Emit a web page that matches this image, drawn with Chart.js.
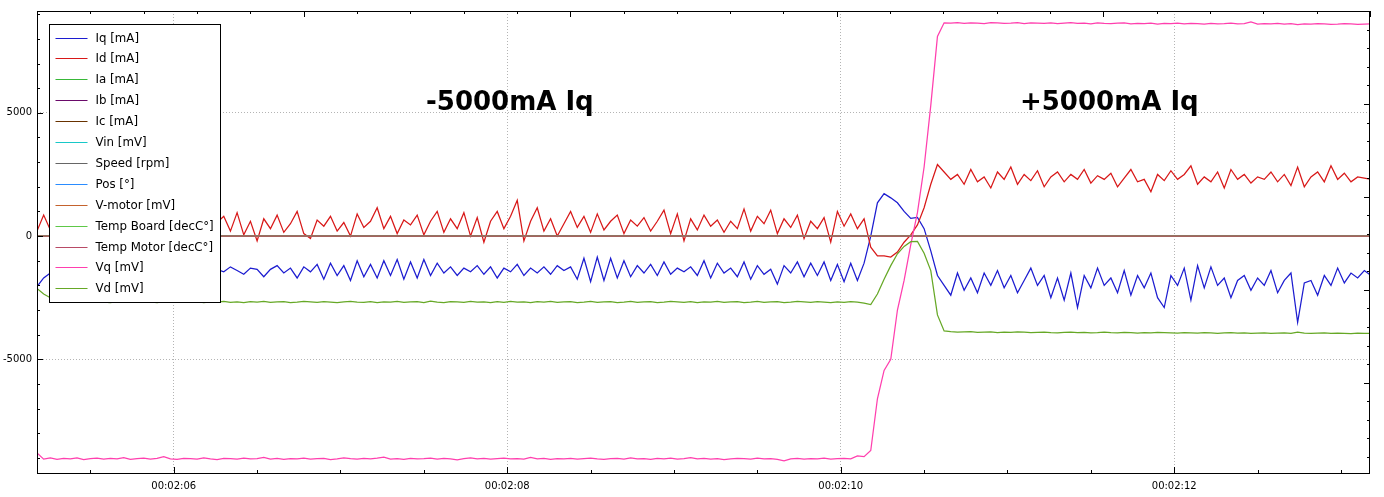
<!DOCTYPE html>
<html>
<head>
<meta charset="utf-8">
<script src="https://cdn.jsdelivr.net/npm/chart.js@4.4.1/dist/chart.umd.min.js"></script>
<style>
  html, body { margin: 0; padding: 0; background: #fff; }
  #wrap { width: 1384px; height: 497px; }
</style>
</head>
<body>
<div id="wrap"><canvas id="scope"></canvas></div>
<script>
// Sample clock of the logger (seconds since start)
const t0 = 125.18;
const dt = 0.04;
const timeMin = 125.18;
const timeMax = 133.174;

// Tick labels / axis values
const xMajorTicks = [126, 128, 130, 132];
const yMajorTicks = [-5000, 0, 5000];

// Logged channels, one value per sample
const iqValues = [
  -2050, -1700, -1500, -1350, -1450, -1300, -1500, -1350, -1250, -1450,
  -1350, -1550, -1300, -1400, -1250, -1500, -1350, -1450, -1300, -1550,
  -1400, -1250, -1450, -1350, -1500, -1300, -1400, -1350, -1450, -1250,
  -1400, -1550, -1300, -1350, -1650, -1350, -1200, -1500, -1300, -1700,
  -1250, -1450, -1150, -1750, -1100, -1600, -1200, -1800, -1000, -1650,
  -1150, -1700, -1000, -1600, -950, -1750, -1050, -1700, -950, -1600,
  -1100, -1500, -1250, -1600, -1300, -1450, -1200, -1550, -1250, -1700,
  -1300, -1450, -1150, -1600, -1300, -1500, -1250, -1550, -1200, -1400,
  -1250, -1750, -900, -1850, -850, -1800, -900, -1700, -1000, -1650,
  -1200, -1500, -1150, -1600, -1050, -1550, -1300, -1450, -1250, -1600,
  -1000, -1700, -1100, -1500, -1300, -1650, -1050, -1750, -1200, -1550,
  -1350, -1950, -1200, -1500, -1050, -1650, -1100, -1600, -1050, -1800,
  -1150, -1850, -1100, -1800, -1100, 0, 1350, 1720, 1550, 1350,
  1000, 720, 760, 300, -600, -1600, -2000, -2400, -1500, -2200,
  -1700, -2300, -1500, -2000, -1400, -2100, -1600, -2300, -1800, -1300,
  -2000, -1600, -2500, -1700, -2600, -1500, -2900, -1600, -2100, -1300,
  -2000, -1700, -2300, -1400, -2400, -1600, -2100, -1500, -2500, -2900,
  -1600, -2000, -1300, -2600, -1200, -2100, -1250, -2000, -1700, -2500,
  -1800, -1600, -2200, -1700, -2000, -1400, -2300, -1800, -1500, -3500,
  -1900, -1800, -2400, -1600, -2000, -1300, -1900, -1500, -1700, -1400, -1600
];

const idValues = [
  200, 850, 250, 700, 100, 600, 350, 900, 150, 500,
  750, 200, 600, 50, 800, 400, 650, 100, 550, 900,
  250, 600, 0, 700, 450, 800, 150, 550, 800, 200,
  950, 50, 600, -200, 700, 300, 850, 150, 500, 1000,
  100, -100, 650, 400, 800, 200, 550, 0, 900, 350,
  600, 1150, 300, 800, 100, 650, 450, 850, 50, 600,
  1000, 150, 700, 300, 950, 0, 750, -250, 600, 1000,
  300, 800, 1450, -200, 600, 1150, 200, 700, 0, 500,
  1000, 350, 800, 150, 900, 250, 600, 850, 100, 650,
  400, 750, 200, 600, 1050, 100, 900, -200, 700, 250,
  850, 400, 650, 150, 600, 300, 1100, 200, 800, 500,
  1050, 100, 700, 350, 850, -100, 600, 300, 750, -250,
  1000, 400, 900, 300, 700, -450, -800, -800, -850, -650,
  -250, 50, 450, 1150, 2100, 2900, 2600, 2300, 2500, 2100,
  2700, 2200, 2400, 1950, 2600, 2300, 2800, 2100, 2500, 2250,
  2650, 2000, 2400, 2600, 2200, 2500, 2300, 2700, 2150, 2450,
  2300, 2550, 2000, 2350, 2700, 2200, 2300, 1800, 2500, 2250,
  2650, 2300, 2500, 2850, 2100, 2400, 2200, 2600, 1950, 2700,
  2300, 2500, 2150, 2400, 2300, 2600, 2200, 2500, 2050, 2800,
  2000, 2400, 2600, 2200, 2850, 2300, 2550, 2200, 2400, 2350, 2300
];

const vqValues = [
  -8800, -9050, -9000, -9060, -9020, -9040, -9000, -9070, -9030, -9010,
  -9050, -9020, -9040, -8990, -9060, -9030, -9010, -9050, -9020, -8950,
  -9040, -9060, -9020, -9030, -9050, -9000, -9040, -9070, -9020, -9030,
  -9050, -9010, -9040, -9030, -8980, -9050, -9020, -9060, -9030, -9040,
  -9010, -9050, -9030, -9020, -9070, -9040, -9000, -9030, -9050, -9020,
  -9040, -9010, -8970, -9050, -9030, -9060, -9020, -9040, -9030, -9010,
  -9050, -9020, -9040, -9080, -9030, -9000, -9040, -9020, -9050, -9030,
  -9010, -9040, -9030, -9050, -8980, -9040, -9020, -9060, -9030, -9040,
  -9020, -9050, -9030, -9010, -9040, -9060, -9030, -9020, -9050, -9000,
  -9040, -9030, -9060, -9020, -9040, -9010, -9050, -9030, -8990, -9040,
  -9020, -9050, -9030, -9070, -9040, -9020, -9030, -9050, -9010, -9040,
  -9030, -9060, -9120, -9040, -9020, -9050, -9030, -9040, -9010, -9050,
  -9030, -9020, -9040, -8920, -8950, -8700, -6600, -5450, -5000, -3000,
  -1800, -350, 950, 2800, 5300, 8100, 8650, 8640, 8660, 8630,
  8650, 8640, 8620, 8660, 8650, 8630, 8640, 8660, 8620, 8650,
  8640, 8630, 8650, 8620, 8640, 8660, 8630, 8640, 8610, 8650,
  8630, 8620, 8640, 8650, 8610, 8630, 8620, 8640, 8600, 8630,
  8620, 8640, 8610, 8630, 8620, 8600, 8630, 8610, 8620, 8640,
  8610, 8620, 8690, 8600, 8620, 8610, 8630, 8600, 8620, 8580,
  8610, 8600, 8620, 8610, 8590, 8600, 8620, 8610, 8590, 8600, 8610
];

const vdValues = [
  -2130, -2350, -2500, -2600, -2650, -2680, -2660, -2690, -2670, -2650,
  -2680, -2700, -2660, -2670, -2690, -2650, -2680, -2670, -2700, -2660,
  -2680, -2650, -2690, -2670, -2660, -2700, -2670, -2680, -2650, -2690,
  -2670, -2700, -2660, -2680, -2650, -2690, -2670, -2660, -2700, -2680,
  -2650, -2670, -2690, -2660, -2680, -2700, -2670, -2650, -2680, -2690,
  -2660, -2700, -2670, -2680, -2650, -2690, -2670, -2660, -2700, -2640,
  -2680, -2700, -2660, -2670, -2690, -2650, -2680, -2670, -2700, -2660,
  -2690, -2650, -2680, -2670, -2700, -2660, -2680, -2650, -2690, -2670,
  -2660, -2700, -2680, -2650, -2690, -2670, -2660, -2700, -2680, -2650,
  -2690, -2670, -2660, -2700, -2680, -2650, -2670, -2690, -2660, -2700,
  -2670, -2680, -2650, -2690, -2670, -2660, -2700, -2680, -2650, -2690,
  -2670, -2660, -2700, -2680, -2650, -2670, -2690, -2660, -2680, -2700,
  -2670, -2690, -2660, -2680, -2720, -2780, -2350, -1750, -1200, -720,
  -420, -230, -220, -700, -1400, -3200, -3850, -3880, -3900, -3890,
  -3880, -3910, -3900, -3890, -3920, -3900, -3910, -3890, -3900, -3920,
  -3910, -3900, -3920, -3930, -3910, -3900, -3920, -3910, -3930, -3920,
  -3900, -3920, -3930, -3910, -3920, -3940, -3920, -3930, -3910, -3920,
  -3930, -3940, -3920, -3930, -3940, -3920, -3930, -3950, -3930, -3920,
  -3940, -3930, -3950, -3940, -3930, -3950, -3940, -3930, -3950, -3900,
  -3940, -3950, -3940, -3930, -3950, -3940, -3950, -3960, -3940, -3950, -3950
];

// Channels that stay flat at zero for the whole capture (start, end)
const flatTimes = [timeMin, timeMax];
const iaValues = [0, 0];
const ibValues = [0, 0];
const icValues = [0, 0];
const vinValues = [0, 0];
const speedValues = [0, 0];
const posValues = [0, 0];
const vMotorValues = [0, 0];
const tempBoardValues = [0, 0];
const tempMotorValues = [0, 0];

const sampleTimes = iqValues.map((_, i) => t0 + i * dt);

// Text notes placed in data coordinates
const notes = [
  { text: '-5000mA Iq', t: 127.513, v: 5130 },
  { text: '+5000mA Iq', t: 131.075, v: 5130 }
];

function toPoints(times, values) {
  return values.map((v, i) => ({ x: times[i], y: v }));
}

const channels = [
  { label: 'Iq [mA]', color: '#1c1cd0', times: sampleTimes, values: iqValues },
  { label: 'Id [mA]', color: '#d81818', times: sampleTimes, values: idValues },
  { label: 'Ia [mA]', color: '#38b838', times: flatTimes, values: iaValues },
  { label: 'Ib [mA]', color: '#6a0a6a', times: flatTimes, values: ibValues },
  { label: 'Ic [mA]', color: '#683200', times: flatTimes, values: icValues },
  { label: 'Vin [mV]', color: '#18c8c8', times: flatTimes, values: vinValues },
  { label: 'Speed [rpm]', color: '#666666', times: flatTimes, values: speedValues },
  { label: 'Pos [°]', color: '#2a8cff', times: flatTimes, values: posValues },
  { label: 'V-motor [mV]', color: '#c4622d', times: flatTimes, values: vMotorValues },
  { label: 'Temp Board [decC°]', color: '#5ec848', times: flatTimes, values: tempBoardValues },
  { label: 'Temp Motor [decC°]', color: '#b84a66', times: flatTimes, values: tempMotorValues },
  { label: 'Vq [mV]', color: '#ff3fae', times: sampleTimes, values: vqValues },
  { label: 'Vd [mV]', color: '#66a826', times: sampleTimes, values: vdValues }
];

function fmtTime(sec) {
  const h = Math.floor(sec / 3600);
  const m = Math.floor((sec % 3600) / 60);
  const s = Math.round(sec % 60);
  const p = n => String(n).padStart(2, '0');
  return p(h) + ':' + p(m) + ':' + p(s);
}

// Qwt-like frame with inward ticks on all four sides
const frameTicks = {
  id: 'frameTicks',
  afterDraw(chart) {
    const { ctx, chartArea: a, scales } = chart;
    ctx.save();
    ctx.strokeStyle = '#000';
    ctx.lineWidth = 1;
    ctx.strokeRect(a.left + 0.5, a.top + 0.5, a.right - a.left - 1, a.bottom - a.top);

    function ticks(scale, step, majorStep, draw) {
      let v = Math.ceil((scale.min - 1e-9) / step) * step;
      for (; v <= scale.max + 1e-9; v += step) {
        const r = v / majorStep;
        const major = Math.abs(r - Math.round(r)) < 1e-6;
        draw(Math.round(scale.getPixelForValue(v)) + 0.5, major ? 6 : 3);
      }
    }
    ctx.beginPath();
    ticks(scales.x, 0.5, 2, (px, len) => { ctx.moveTo(px, a.bottom); ctx.lineTo(px, a.bottom - len); });
    ticks(scales.y, 1000, 5000, (py, len) => { ctx.moveTo(a.left, py); ctx.lineTo(a.left + len, py); });
    ticks(scales.x2, 1, 5, (px, len) => { ctx.moveTo(px, a.top); ctx.lineTo(px, a.top + len); });
    ticks(scales.y2, 1, 5, (py, len) => { ctx.moveTo(a.right, py); ctx.lineTo(a.right - len, py); });
    ctx.stroke();
    ctx.restore();
  }
};

const noteText = {
  id: 'noteText',
  afterDatasetsDraw(chart) {
    const { ctx, scales } = chart;
    ctx.save();
    ctx.fillStyle = '#000';
    ctx.font = 'bold 26px "DejaVu Sans"';
    ctx.textAlign = 'left';
    ctx.textBaseline = 'alphabetic';
    notes.forEach(n => {
      ctx.fillText(n.text, scales.x.getPixelForValue(n.t), scales.y.getPixelForValue(n.v));
    });
    ctx.restore();
  }
};

// Boxed legend inside the plot, top-left
const boxLegend = {
  id: 'boxLegend',
  afterDraw(chart) {
    const { ctx, chartArea: a } = chart;
    const bx = a.left + 12.5, by = a.top + 13.5, bw = 171, bh = 278;
    const rowH = 20.9;
    ctx.save();
    ctx.fillStyle = '#fff';
    ctx.fillRect(bx, by, bw, bh);
    ctx.strokeStyle = '#000';
    ctx.lineWidth = 1;
    ctx.strokeRect(bx, by, bw, bh);
    ctx.font = '11.8px "DejaVu Sans"';
    ctx.textBaseline = 'middle';
    ctx.textAlign = 'left';
    chart.data.datasets.forEach((ds, i) => {
      const cy = Math.round(by + 13 + i * rowH) + 0.5;
      ctx.strokeStyle = ds.borderColor;
      ctx.lineWidth = 1.2;
      ctx.beginPath();
      ctx.moveTo(bx + 6, cy);
      ctx.lineTo(bx + 38, cy);
      ctx.stroke();
      ctx.fillStyle = '#000';
      ctx.fillText(ds.label, bx + 46, cy);
    });
    ctx.restore();
  }
};

const ctx = document.getElementById('scope').getContext('2d');
new Chart(ctx, {
  type: 'line',
  data: {
    datasets: channels.map((c, i) => ({
      label: c.label,
      data: toPoints(c.times, c.values),
      borderColor: c.color,
      backgroundColor: c.color,
      borderWidth: 1.25,
      pointRadius: 0,
      tension: 0,
      fill: false,
      order: channels.length - i
    }))
  },
  options: {
    responsive: true,
    maintainAspectRatio: false,
    animation: false,
    events: [],
    layout: { padding: { left: 0, right: 14, top: 10, bottom: 0 } },
    plugins: {
      legend: { display: false },
      tooltip: { enabled: false }
    },
    scales: {
      x: {
        type: 'linear',
        position: 'bottom',
        min: timeMin,
        max: timeMax,
        afterBuildTicks: s => { s.ticks = xMajorTicks.map(v => ({ value: v })); },
        afterFit: s => { s.height = 24; },
        grid: { color: '#b4b4b4', lineWidth: 1, drawTicks: false },
        border: { display: false, dash: [1, 2] },
        ticks: {
          color: '#000',
          padding: 7,
          maxRotation: 0,
          autoSkip: false,
          font: { family: 'DejaVu Sans', size: 10 },
          callback: v => fmtTime(v)
        }
      },
      y: {
        type: 'linear',
        position: 'left',
        min: -9612,
        max: 9130,
        afterBuildTicks: s => { s.ticks = yMajorTicks.map(v => ({ value: v })); },
        afterFit: s => { s.width = 37; },
        grid: { color: '#b4b4b4', lineWidth: 1, drawTicks: false },
        border: { display: false, dash: [1, 2] },
        ticks: {
          color: '#000',
          padding: 5,
          autoSkip: false,
          font: { family: 'DejaVu Sans', size: 10 },
          callback: v => String(v)
        }
      },
      x2: { type: 'linear', position: 'top', min: 0, max: 25, display: false },
      y2: { type: 'linear', position: 'right', min: 0.14, max: 25, display: false }
    }
  },
  plugins: [noteText, frameTicks, boxLegend]
});
</script>
</body>
</html>
